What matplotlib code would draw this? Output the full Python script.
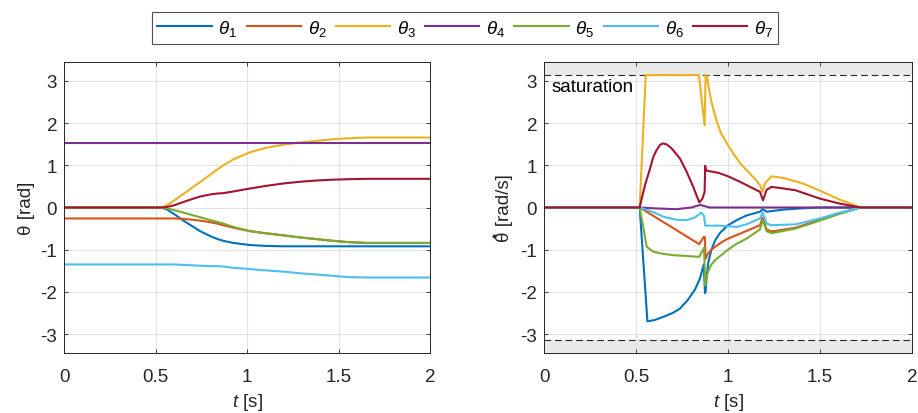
import matplotlib
matplotlib.use('Agg')
import matplotlib.pyplot as plt
from matplotlib.lines import Line2D
from matplotlib.transforms import IdentityTransform
import numpy as np

plt.rcParams['font.family'] = ['Liberation Sans', 'DejaVu Sans']
plt.rcParams['mathtext.fontset'] = 'custom'
plt.rcParams['mathtext.rm'] = 'Liberation Sans'
plt.rcParams['mathtext.it'] = 'Liberation Sans:italic'
plt.rcParams['mathtext.bf'] = 'Liberation Sans:bold'
plt.rcParams['axes.unicode_minus'] = False

# ---------------- data ----------------
labels = [r'$\theta_1$', r'$\theta_2$', r'$\theta_3$', r'$\theta_4$',
          r'$\theta_5$', r'$\theta_6$', r'$\theta_7$']
colors = ['#0072BD', '#D95319', '#EDB120', '#7E2F8E', '#77AC30', '#4DBEEE', '#A2142F']

# joint positions (left panel)
tp = [0, 0.53, 0.56, 0.6, 0.652, 0.7, 0.743, 0.8, 0.834, 0.87, 0.925, 1.016, 1.1, 1.198, 1.29, 1.38, 1.47, 1.55, 1.654, 1.75, 2.0]
q1 = [0, 0, -0.04, -0.15, -0.31, -0.44, -0.56, -0.68, -0.74, -0.79, -0.84, -0.89, -0.91, -0.92, -0.92, -0.92, -0.92, -0.92, -0.92, -0.92, -0.92]
q2 = [-0.26, -0.26, -0.26, -0.26, -0.27, -0.29, -0.31, -0.35, -0.38, -0.42, -0.48, -0.56, -0.61, -0.66, -0.71, -0.75, -0.79, -0.82, -0.84, -0.84, -0.84]
q3 = [0, 0, 0.05, 0.16, 0.32, 0.47, 0.6, 0.78, 0.89, 1.0, 1.14, 1.31, 1.41, 1.49, 1.54, 1.58, 1.62, 1.64, 1.66, 1.66, 1.66]
q4 = [1.53, 1.53, 1.53, 1.53, 1.53, 1.53, 1.53, 1.53, 1.53, 1.53, 1.53, 1.53, 1.53, 1.53, 1.53, 1.53, 1.53, 1.53, 1.53, 1.53, 1.53]
q5 = [0, 0, -0.02, -0.06, -0.12, -0.18, -0.23, -0.3, -0.34, -0.38, -0.46, -0.56, -0.61, -0.66, -0.71, -0.75, -0.79, -0.82, -0.84, -0.84, -0.84]
q6 = [-1.35, -1.35, -1.35, -1.35, -1.36, -1.37, -1.38, -1.39, -1.39, -1.40, -1.43, -1.46, -1.49, -1.52, -1.56, -1.59, -1.62, -1.65, -1.66, -1.66, -1.66]
q7 = [0, 0, 0.01, 0.05, 0.13, 0.2, 0.26, 0.31, 0.33, 0.34, 0.38, 0.45, 0.51, 0.57, 0.61, 0.64, 0.66, 0.67, 0.68, 0.68, 0.68]

# joint velocities (right panel)
t1 = [0, 0.52, 0.562, 0.6, 0.65, 0.7, 0.738, 0.78, 0.82, 0.848, 0.868, 0.875, 0.878, 0.885, 0.893, 0.91, 0.93, 0.957, 1.0, 1.047, 1.1, 1.174, 1.188, 1.21, 1.3, 1.4, 1.5, 2.0]
v1 = [0, 0, -2.7, -2.67, -2.59, -2.5, -2.4, -2.2, -1.95, -1.68, -1.35, -2.03, -2.0, -1.6, -1.3, -1.0, -0.78, -0.6, -0.42, -0.3, -0.19, -0.1, -0.04, -0.1, -0.05, -0.02, 0, 0]
t2 = [0, 0.52, 0.844, 0.868, 0.874, 0.878, 0.89, 0.91, 0.94, 0.97, 1.0, 1.065, 1.12, 1.174, 1.188, 1.21, 1.237, 1.366, 1.5, 1.6, 1.72, 2.0]
v2 = [0, 0, -0.87, -0.7, -0.7, -1.22, -1.1, -1.0, -0.9, -0.81, -0.74, -0.62, -0.52, -0.42, -0.24, -0.52, -0.57, -0.48, -0.29, -0.15, 0, 0]
t3 = [0, 0.52, 0.553, 0.842, 0.873, 0.878, 0.885, 0.895, 0.91, 0.935, 0.96, 1.0, 1.03, 1.07, 1.12, 1.15, 1.175, 1.188, 1.2, 1.237, 1.3, 1.4, 1.5, 1.6, 1.72, 2.0]
v3 = [0, 0, 3.14, 3.14, 1.95, 3.14, 3.12, 2.85, 2.5, 2.1, 1.78, 1.48, 1.27, 1.03, 0.8, 0.66, 0.52, 0.37, 0.57, 0.74, 0.7, 0.58, 0.4, 0.2, 0, 0]
t4 = [0, 0.52, 0.6, 0.72, 0.8, 0.85, 0.9, 1.0, 2.0]
v4 = [0, 0, -0.02, -0.04, 0.0, 0.06, 0.0, 0.0, 0]
t5 = [0, 0.52, 0.545, 0.558, 0.594, 0.65, 0.703, 0.844, 0.87, 0.876, 0.88, 0.893, 0.91, 0.93, 0.957, 1.0, 1.047, 1.1, 1.174, 1.188, 1.21, 1.237, 1.366, 1.5, 1.6, 1.72, 2.0]
v5 = [0, 0, -0.6, -0.93, -1.05, -1.1, -1.13, -1.17, -0.95, -1.85, -1.7, -1.5, -1.35, -1.25, -1.15, -1.0, -0.86, -0.74, -0.52, -0.3, -0.56, -0.61, -0.5, -0.31, -0.16, 0, 0]
t6 = [0, 0.52, 0.6, 0.649, 0.72, 0.775, 0.82, 0.855, 0.87, 0.876, 0.957, 1.047, 1.1, 1.174, 1.188, 1.21, 1.237, 1.366, 1.5, 1.6, 1.72, 2.0]
v6 = [0, 0, -0.12, -0.22, -0.29, -0.3, -0.24, -0.12, -0.2, -0.43, -0.43, -0.46, -0.4, -0.26, -0.12, -0.38, -0.42, -0.4, -0.26, -0.13, 0, 0]
t7 = [0, 0.52, 0.531, 0.549, 0.576, 0.594, 0.612, 0.63, 0.644, 0.665, 0.694, 0.739, 0.775, 0.811, 0.844, 0.86, 0.873, 0.876, 0.88, 0.9, 0.95, 1.0, 1.065, 1.12, 1.174, 1.19, 1.21, 1.237, 1.366, 1.5, 1.6, 1.72, 2.0]
v7 = [0, 0, 0.21, 0.53, 0.92, 1.2, 1.36, 1.48, 1.52, 1.5, 1.4, 1.16, 0.85, 0.49, 0.12, 0.2, 0.37, 0.99, 0.88, 0.86, 0.82, 0.74, 0.61, 0.49, 0.37, 0.17, 0.42, 0.49, 0.41, 0.21, 0.1, 0, 0]

sat_limit = 3.1416
xticks = [0, 0.5, 1, 1.5, 2]
xticklabels = ['0', '0.5', '1', '1.5', '2']
yticks = [-3, -2, -1, 0, 1, 2, 3]
yticklabels = ['-3', '-2', '-1', '0', '1', '2', '3']

# ---------------- figure ----------------
W, H = 918, 414
fig = plt.figure(figsize=(W / 100, H / 100), dpi=100)
ax1 = fig.add_axes([64 / W, 1 - 354 / H, 366 / W, 291 / H])
ax2 = fig.add_axes([544 / W, 1 - 354 / H, 368 / W, 291 / H])

FS = 13.5
dark = '#262626'

def style(ax):
    ax.set_xlim(0, 2)
    ax.set_ylim(-3.45, 3.45)
    ax.set_xticks(xticks)
    ax.set_xticklabels(xticklabels)
    ax.set_yticks(yticks)
    ax.set_yticklabels(yticklabels)
    ax.grid(True, color='#e2e2e2', lw=0.8)
    ax.set_axisbelow(True)
    ax.tick_params(direction='in', top=True, right=True, length=3, width=0.6,
                   labelsize=FS, colors=dark)
    ax.tick_params(axis='x', pad=11)
    ax.tick_params(axis='y', pad=5)
    for s in ax.spines.values():
        s.set_color(dark)
        s.set_linewidth(0.7)
    ax.set_xlabel(r'$t$ [s]', fontsize=FS, color=dark, labelpad=4)

pos = [q1, q2, q3, q4, q5, q6, q7]
lines = []
for q, c, lab in zip(pos, colors, labels):
    ln, = ax1.plot(tp, q, color=c, lw=1.5, label=lab)
    lines.append(ln)

vel_t = [t1, t2, t3, t4, t5, t6, t7]
vel_v = [v1, v2, v3, v4, v5, v6, v7]
for tt, vv, c in zip(vel_t, vel_v, colors):
    ax2.plot(tt, vv, color=c, lw=1.5)

style(ax1)
style(ax2)
ax1.set_ylabel('θ [rad]', fontsize=FS, color=dark, labelpad=4)
ax2.set_ylabel('θ [rad/s]', fontsize=FS, color=dark, labelpad=5)

# saturation bands
ax2.axhspan(sat_limit, 3.45, color='#e9e9e9', zorder=0.5, lw=0)
ax2.axhspan(-3.45, -sat_limit, color='#e9e9e9', zorder=0.5, lw=0)
ax2.axhline(sat_limit, color=dark, lw=0.8, dashes=(6, 3.5), zorder=1)
ax2.axhline(-sat_limit, color=dark, lw=0.8, dashes=(6, 3.5), zorder=1)
ax2.text(0.04, 2.87, 'saturation', fontsize=FS, color='black', va='center', ha='left')

leg = fig.legend(handles=lines, loc='center', bbox_to_anchor=(465 / W, 1 - 29 / H),
                 ncol=7, fontsize=FS, frameon=True, fancybox=False,
                 handlelength=2.9, handletextpad=0.35, columnspacing=0.5,
                 borderpad=0.3, borderaxespad=0)
leg.get_frame().set_edgecolor(dark)
leg.get_frame().set_linewidth(0.8)

# dot accent over the theta of the right y label (label is rotated 90 deg)
fig.canvas.draw()
renderer = fig.canvas.get_renderer()
ylab = ax2.yaxis.label
bb = ylab.get_window_extent(renderer)
tmp = fig.text(0, 0, 'θ', fontsize=FS)
wth = tmp.get_window_extent(renderer).width
tmp.remove()
dot = Line2D([bb.x0 - 2.0], [bb.y0 + wth / 2 + 0.5], transform=IdentityTransform(),
             marker='o', markersize=2.8, color=dark, markeredgewidth=0, linestyle='none')
fig.add_artist(dot)

fig.savefig('out.png', dpi=100)
